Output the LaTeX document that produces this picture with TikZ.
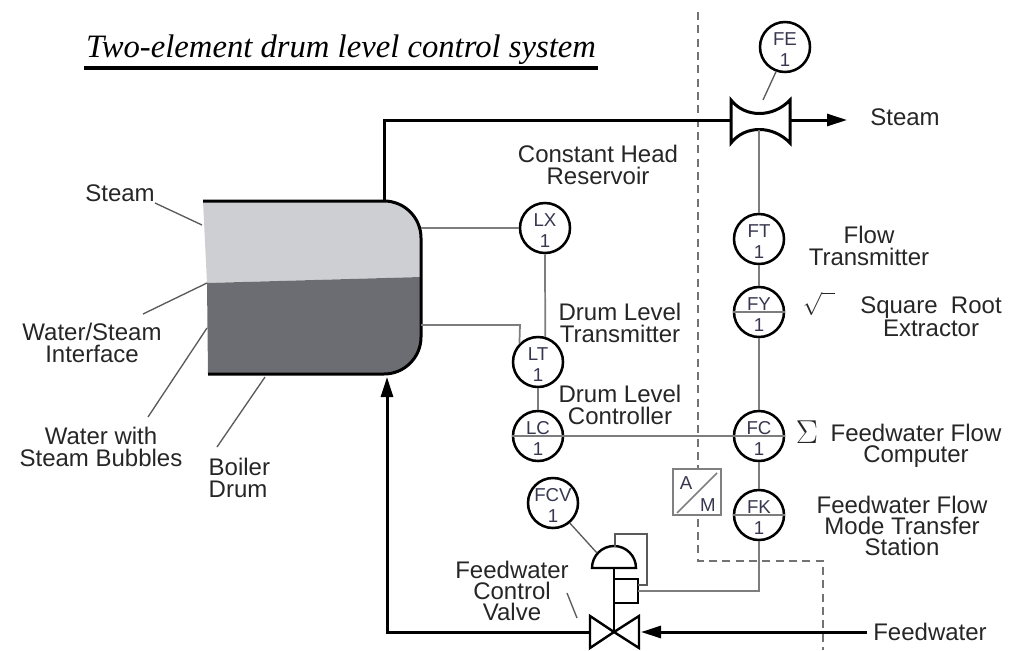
\documentclass[tikz,border=0pt]{standalone}
\usepackage{fontspec}
\setmainfont{Liberation Sans}
\newfontfamily\titlefont{Liberation Serif}
\usetikzlibrary{arrows.meta}

\definecolor{steamgray}{RGB}{205,207,211}
\definecolor{watergray}{RGB}{107,109,114}
\definecolor{conncol}{RGB}{125,125,125}
\definecolor{leadcol}{RGB}{90,90,90}
\definecolor{tagcol}{RGB}{55,55,80}

\tikzset{
  inst/.style={circle, draw, line width=1.9pt, minimum size=37.5pt, inner sep=0pt, fill=white},
  tag/.style={font=\fontsize{14}{15.5}\selectfont, text=tagcol, align=center, yshift=-2pt},
  pipe/.style={line width=2.25pt},
  conn/.style={line width=1.3pt, draw=conncol},
  lead/.style={line width=1pt, draw=leadcol},
  lbl/.style={font=\fontsize{18}{16}\selectfont, align=center, text=black!85},
  tip/.style={-{Triangle[length=15pt,width=9pt]}}
}

\begin{document}
\begin{tikzpicture}[x=0.75pt,y=0.75pt,yscale=-1]
\useasboundingbox (0,0) rectangle (1010,650);

%Title
\node[font=\titlefont\itshape\fontsize{24.5}{28}\selectfont, anchor=base] (title) at (341,57) {Two-element drum level control system};
\draw[line width=2.6pt] (84,68) -- (598,68);

%Boiler drum
\fill[steamgray] (203,201) -- (384,201) arc[start angle=-90, end angle=0, radius=37] -- (421,277) -- (207,283) -- cycle;
\fill[watergray] (207,283) -- (421,277) -- (421,337) arc[start angle=0, end angle=90, radius=37] -- (208,374) -- cycle;
\draw[pipe] (203,201) -- (384,201) arc[start angle=-90, end angle=0, radius=37] -- (421,337) arc[start angle=0, end angle=90, radius=37] -- (208,374);

%Dashed boundary
\draw[line width=1.5pt, draw=black!55, dash pattern=on 6pt off 4pt] (698,12) -- (698,561) -- (823,561) -- (823,650);

%Steam line with flow element
\draw[pipe] (384,201) -- (384,120) -- (731,120);
\draw[pipe, fill=white] (731,100) .. controls (745,118) and (773,118) .. (790,100) -- (790,143) .. controls (773,125) and (745,125) .. (731,143) -- cycle;
\coordinate (throat) at (759,130);
\draw[pipe, tip] (790,120) -- (847,120);

%Instruments
\node[inst] (FE) at (785,47) {};
\node[inst] (LX) at (545,228) {};
\node[inst] (LT) at (538,362) {};
\node[inst] (LC) at (538,436) {};
\node[inst] (FT) at (759,239) {};
\node[inst] (FY) at (759,312) {};
\node[inst] (FC) at (759,436) {};
\node[inst] (FK) at (759,515) {};
\node[inst] (FCV) at (553,503) {};

\node[tag] at (FE) {FE\\1};
\node[tag] at (LX) {LX\\1};
\node[tag] at (LT) {LT\\1};
\node[tag] at (LC) {LC\\1};
\node[tag] at (FT) {FT\\1};
\node[tag] at (FY) {FY\\1};
\node[tag] at (FC) {FC\\1};
\node[tag] at (FK) {FK\\1};
\node[tag] at (FCV) {FCV\\1};

%Signal lines
\draw[lead] (FE.250) -- (763,100);
\draw[conn] (throat) -- (FT.north);
\draw[conn] (FT.south) -- (FY.north);
\draw[conn] (FY.south) -- (FC.north);
\draw[conn] (FC.south) -- (FK.north);
\draw[conn] (FY.west) -- (FY.east);
\draw[conn] (FC.west) -- (FC.east);
\draw[conn] (FK.west) -- (FK.east);
\draw[conn] (421,228) -- (LX.west);
\draw[conn] (LX.south) -- (LT.74);
\draw[conn] (421,325) -- (520,325) -- (LT.north west);
\draw[conn] (LT.south) -- (LC.north);
\draw[conn] (LC.west) -- (FC.west);

%Auto/manual station
\node[draw=black!50, line width=1.3pt, fill=white, minimum width=36pt, minimum height=35pt, inner sep=0pt] (AM) at (697,492) {};
\draw[draw=black!50, line width=1.2pt] (677,513) -- (717,473);
\node[tag, yshift=2pt] at (686,483) {A};
\node[tag, yshift=2pt] at (708,505) {M};

%Feedwater control valve
\draw[line width=1.8pt, fill=white] (590,616) -- (590,648) -- (614,632) -- cycle;
\draw[line width=1.8pt, fill=white] (639,616) -- (639,648) -- (614,632) -- cycle;
\draw[line width=1.8pt] (614,632) -- (614,568);
\draw[line width=1.8pt, fill=white] (592,568) arc[start angle=180, end angle=360, radius=22] -- cycle;
\draw[line width=1.8pt, fill=white] (614,579) rectangle (638,603);
\draw[lead] (638,585) -- (647,585) -- (647,534) -- (615,534) -- (615,547);
\draw[conn] (638,591) -- (759,591) -- (FK.south);
\draw[lead] (FCV.310) -- (597,553);

%Feedwater lines
\draw[pipe, tip] (867,632) -- (641,632);
\draw[pipe, tip] (590,632) -- (387,632) -- (387,377);

%Labels
\node[lbl] (steamR) at (905,117) {Steam};
\node[lbl] (chr) at (598,165) {Constant Head\\Reservoir};
\node[lbl] (dlt) at (620,323) {Drum Level\\Transmitter};
\node[lbl] (dlc) at (620,405) {Drum Level\\Controller};
\node[lbl] (flt) at (869,246) {Flow\\Transmitter};
\node[lbl] (sqr) at (819,304) {$\sqrt{\hphantom{x}}$};
\node[lbl] (sre) at (931,317) {Square\ \ Root\\Extractor};
\node[lbl, font=\fontsize{24}{24}\selectfont] (sig) at (807,432) {$\Sigma$};
\node[lbl] (ffc) at (916,446) {Feedwater Flow\\Computer};
\node[lbl] (fmt) at (902,526) {Feedwater Flow\\Mode Transfer\\Station};
\node[lbl] (fwR) at (930,632) {Feedwater};
\node[lbl] (fcv) at (512,591) {Feedwater\\Control\\Valve};
\node[lbl] (steamL) at (120,193) {Steam};
\node[lbl] (wsi) at (92,343) {Water/Steam\\Interface};
\node[lbl] (wsb) at (101,447) {Water with\\Steam Bubbles};
\node[lbl, align=left, anchor=west] (bd) at (204,478) {Boiler\\Drum};

%Leaders
\draw[lead] (155,203) -- (202,225);
\draw[lead] (143,314) -- (207,283);
\draw[lead] (148,417) -- (207,328);
\draw[lead] (217,447) -- (265,377);
\draw[lead] (567,593) -- (577,618);

\end{tikzpicture}
\end{document}
